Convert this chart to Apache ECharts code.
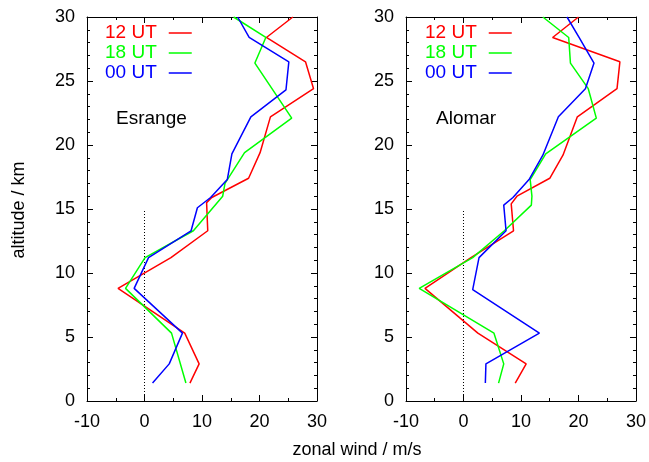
<!DOCTYPE html>
<html><head><meta charset="utf-8">
<script src="https://cdn.jsdelivr.net/npm/echarts@6/dist/echarts.min.js"></script>
<style>html,body{margin:0;padding:0;background:#fff}#c{width:649px;height:462px}</style>
</head><body><div id="c"></div>
<script>
// ---- data (zonal wind in m/s vs altitude in km) ----
const seriesNames = ['12 UT', '18 UT', '00 UT'];
const stationNames = ['Esrange', 'Alomar'];
const xTickValues = [-10, 0, 10, 20, 30];
const yTickValues = [0, 5, 10, 15, 20, 25, 30];

const esr12Alt  = [1.4, 2.9, 5.3, 8.8, 11.2, 13.3, 15.5, 15.9, 17.4, 19.4, 22.2, 24.4, 26.5, 28.4, 30.0];
const esr12Wind = [7.9, 9.5, 7.0, -4.6, 4.6, 11.0, 10.8, 11.7, 18.1, 20.1, 21.9, 29.4, 28.0, 21.2, 25.8];
const esr18Alt  = [1.4, 5.3, 8.8, 11.2, 13.3, 16.0, 17.0, 19.4, 22.1, 26.4, 28.4, 30.0];
const esr18Wind = [7.2, 4.7, -3.3, 0.1, 8.5, 13.6, 14.0, 17.4, 25.6, 19.2, 21.1, 15.5];
const esr00Alt  = [1.4, 2.9, 5.3, 8.8, 11.2, 13.3, 15.1, 15.9, 17.3, 19.3, 22.2, 24.3, 26.5, 28.4, 30.0];
const esr00Wind = [1.4, 4.3, 6.6, -1.8, 0.7, 8.1, 9.2, 11.5, 14.4, 15.2, 18.5, 24.6, 25.1, 18.2, 16.2];

const alo12Alt  = [1.4, 2.9, 5.3, 8.8, 11.2, 13.3, 15.4, 16.0, 17.4, 19.2, 22.2, 24.4, 26.5, 28.4, 30.0];
const alo12Wind = [9.0, 10.9, 2.5, -6.7, 1.3, 8.7, 8.3, 9.3, 15.0, 17.3, 19.8, 26.7, 27.2, 15.5, 20.0];
const alo18Alt  = [1.4, 2.9, 5.3, 8.8, 11.2, 13.3, 15.3, 16.0, 17.3, 19.3, 22.1, 24.4, 26.4, 28.4, 30.0];
const alo18Wind = [6.1, 7.0, 5.3, -7.7, 1.6, 7.1, 11.8, 11.9, 11.6, 14.3, 23.1, 21.7, 18.6, 18.3, 13.8];
const alo00Alt  = [1.4, 2.9, 5.3, 8.7, 11.2, 13.3, 15.3, 15.9, 17.3, 19.2, 22.2, 24.4, 26.4, 28.4, 30.0];
const alo00Wind = [3.8, 3.9, 13.2, 1.6, 2.7, 7.4, 7.0, 8.6, 11.4, 13.8, 16.5, 21.2, 22.7, 20.1, 18.0];

const zeroLineWind = [0, 0];
const zeroLineAlt  = [0, 15];

const colors = ['#ff0000', '#00ff00', '#0000ff'];
// -------------------------------------------------

const zip = (w, a) => w.map((v, i) => [v, a[i]]);
const FONT = 'Liberation Sans, Arial, sans-serif';
const grids = [
  {left: 87, top: 17, width: 230, height: 384},
  {left: 406, top: 17, width: 231, height: 384}
];

function xAx(gi, top) {
  return {
    type: 'value', gridIndex: gi, position: top ? 'top' : 'bottom',
    min: xTickValues[0], max: xTickValues[xTickValues.length - 1], interval: 10,
    axisLine: {show: true, onZero: false, lineStyle: {color: '#000', width: 1}},
    axisTick: {show: true, inside: true, length: 6, lineStyle: {color: '#000'}},
    minorTick: {show: true, splitNumber: 2, length: 3, lineStyle: {color: '#000'}},
    splitLine: {show: false},
    axisLabel: {show: !top, color: '#000', fontSize: 18, fontFamily: FONT, margin: 12}
  };
}
function yAx(gi, right) {
  return {
    type: 'value', gridIndex: gi, position: right ? 'right' : 'left',
    min: yTickValues[0], max: yTickValues[yTickValues.length - 1], interval: 5,
    axisLine: {show: true, onZero: false, lineStyle: {color: '#000', width: 1}},
    axisTick: {show: true, inside: true, length: 6, lineStyle: {color: '#000'}},
    minorTick: {show: true, splitNumber: 5, length: 3, lineStyle: {color: '#000'}},
    splitLine: {show: false},
    axisLabel: {show: !right, color: '#000', fontSize: 18, fontFamily: FONT, margin: 12}
  };
}

const panelData = [
  [zip(esr12Wind, esr12Alt), zip(esr18Wind, esr18Alt), zip(esr00Wind, esr00Alt)],
  [zip(alo12Wind, alo12Alt), zip(alo18Wind, alo18Alt), zip(alo00Wind, alo00Alt)]
];

const series = [];
panelData.forEach((pd, gi) => {
  series.push({
    type: 'line', xAxisIndex: gi * 2, yAxisIndex: gi * 2,
    data: zip(zeroLineWind, zeroLineAlt), symbol: 'none', silent: true,
    lineStyle: {color: '#000', width: 1, type: [1, 2]}
  });
  pd.forEach((d, si) => {
    series.push({
      name: seriesNames[si], type: 'line', xAxisIndex: gi * 2, yAxisIndex: gi * 2,
      data: d, symbol: 'none', clip: true,
      lineStyle: {color: colors[si], width: 1.5}, itemStyle: {color: colors[si]}
    });
  });
});

function legendAt(left) {
  return {
    left: left, top: 18, orient: 'vertical', align: 'right',
    icon: 'rect', itemWidth: 23, itemHeight: 1.5, itemGap: 0,
    data: seriesNames.map((n, i) => ({name: n, textStyle: {color: colors[i]}})),
    textStyle: {fontSize: 19, fontFamily: FONT, lineHeight: 20, padding: [0, 7, 0, 0]},
    selectedMode: false
  };
}

const chart = echarts.init(document.getElementById('c'), null, {renderer: 'canvas'});
chart.setOption({
  animation: false,
  backgroundColor: '#fff',
  grid: grids,
  xAxis: [xAx(0, false), xAx(0, true), xAx(1, false), xAx(1, true)],
  yAxis: [yAx(0, false), yAx(0, true), yAx(1, false), yAx(1, true)],
  legend: [legendAt(100), legendAt(420)],
  series: series,
  graphic: [
    {type: 'text', left: 116, top: 109, style: {text: stationNames[0], fontSize: 19, fontFamily: FONT, fill: '#000'}},
    {type: 'text', left: 436, top: 109, style: {text: stationNames[1], fontSize: 19, fontFamily: FONT, fill: '#000'}},
    {type: 'text', x: 357, y: 450, style: {text: 'zonal wind / m/s', fontSize: 18, fontFamily: FONT, fill: '#000', align: 'center', verticalAlign: 'middle'}},
    {type: 'text', x: 19, y: 210, rotation: Math.PI / 2, style: {text: 'altitude / km', fontSize: 18, fontFamily: FONT, fill: '#000', align: 'center', verticalAlign: 'middle'}}
  ]
});
</script>
</body></html>
